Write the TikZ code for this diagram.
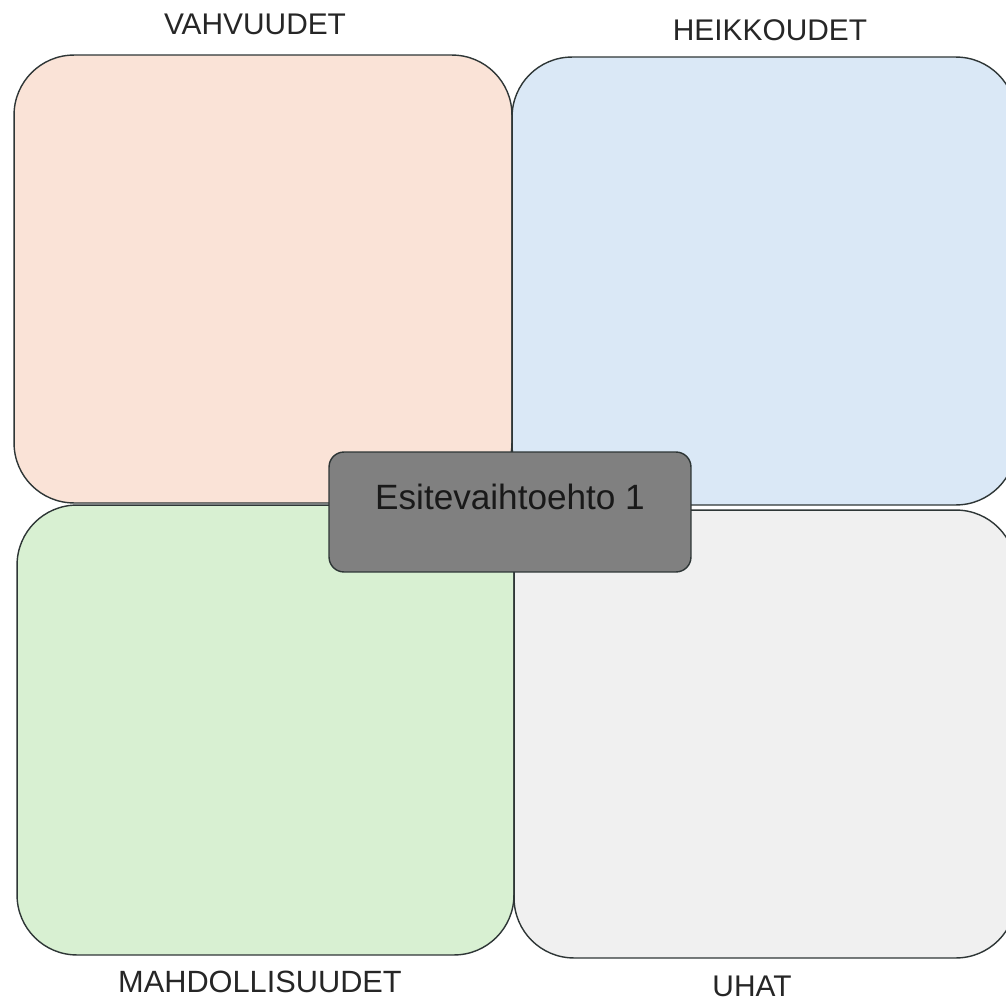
\documentclass[tikz,border=0pt]{standalone}
\usepackage{fontspec}
\setmainfont{Liberation Sans}
\definecolor{vahvuus}{HTML}{FAE3D7}
\definecolor{heikkous}{HTML}{DAE8F6}
\definecolor{mahdollisuus}{HTML}{D8F0D2}
\definecolor{uhka}{HTML}{F0F0F0}
\definecolor{reuna}{HTML}{2E3636}
\definecolor{esite}{HTML}{808080}
\tikzset{
  panel/.style={draw=reuna, line width=0.8pt, rounded corners=1.2cm, inner sep=0pt},
  otsikko/.style={font=\fontsize{17}{20}\selectfont, text=black!85},
  esitebox/.style={draw=reuna, fill=esite, line width=0.8pt, rounded corners=0.3cm,
    minimum width=7.24cm, minimum height=2.4cm, inner sep=0pt}
}
\begin{document}
\begin{tikzpicture}[x=0.02cm, y=-0.02cm, line join=round]
\useasboundingbox (0,0) rectangle (1006,1000);
\clip (0,0) rectangle (1006,1000);
% four panels
\node[panel, fill=vahvuus, minimum width=9.96cm, minimum height=8.96cm] (S) at (263,279) {};
\node[panel, fill=heikkous, minimum width=10.08cm, minimum height=8.96cm] (W) at (764,281) {};
\node[panel, fill=mahdollisuus, minimum width=9.94cm, minimum height=9cm] (O) at (265.5,730) {};
\node[panel, fill=uhka, minimum width=10.04cm, minimum height=8.96cm] (T) at (765,734) {};
% headings
\node[otsikko] (vahv) at (255,24) {VAHVUUDET};
\node[otsikko] (heik) at (770,30) {HEIKKOUDET};
\node[otsikko, font=\fontsize{17.5}{20}\selectfont] (mahd) at (260,982) {MAHDOLLISUUDET};
\node[otsikko] (uhat) at (752,986) {UHAT};
% centre box
\node[esitebox] (esite) at (510,512) {};
\node[font=\fontsize{20}{24}\selectfont, text=black!90] (esiteteksti) at ([yshift=0.3cm]esite.center) {Esitevaihtoehto 1};
\end{tikzpicture}
\end{document}
